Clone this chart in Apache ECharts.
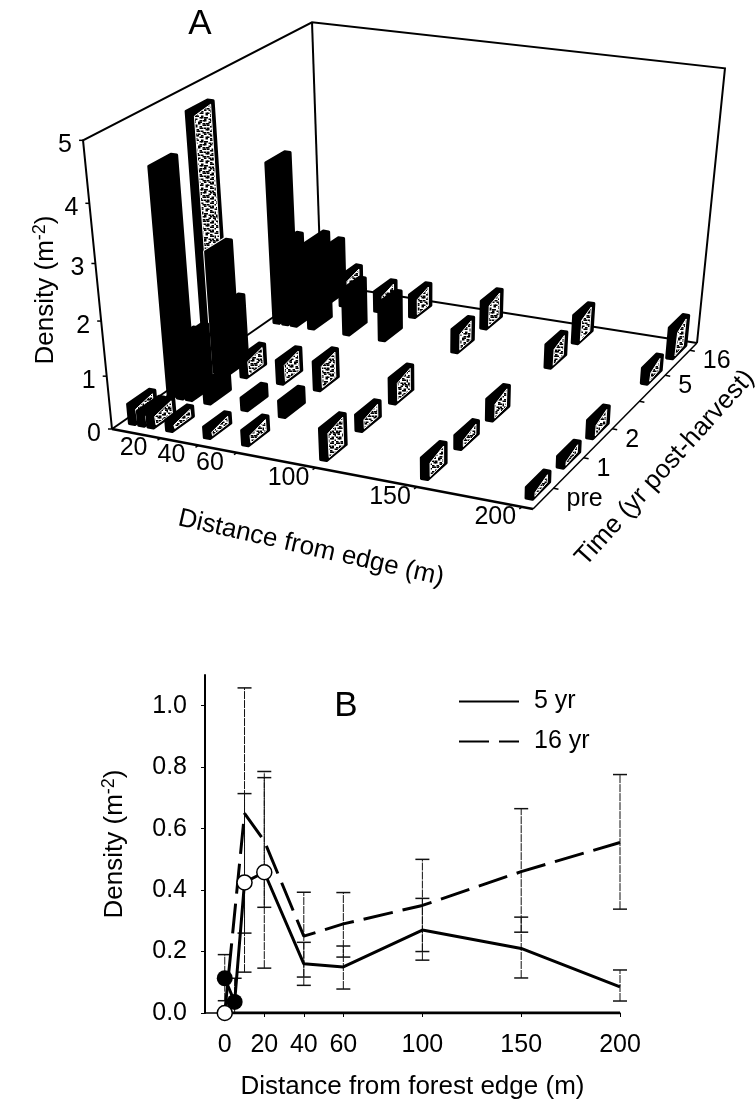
<!DOCTYPE html>
<html>
<head>
<meta charset="utf-8">
<style>html,body{margin:0;background:#fff}#main{width:756px;height:1113px}</style>
<script src="https://cdn.jsdelivr.net/npm/echarts@6/dist/echarts.min.js"></script>
</head>
<body>
<div id="main"></div>
<script>
// panel A
const distances = [0, 5, 10, 20, 40, 60, 100, 150, 200];
const distanceTicks = [20, 40, 60, 100, 150, 200];
const timeTicks = ['pre', '1', '2', '5', '16'];
const timeSlots = [0, 1, 2, 4, 5]; // slot 3 is an empty tick in the original
const densityTicks = [0, 1, 2, 3, 4, 5];

const densityPre = [0.37, 0.27, 0.3, 0.2, 0.2, 0.27, 0.58, 0.38, 0.2];
const density1 = [4.15, 1.1, 1.2, 0.4, 0.23, 0.3, 0.3, 0.25, 0.2];
const density2 = [4.7, 2.3, 1.3, 0.4, 0.45, 0.55, 0.48, 0.4, 0.33];
const density5 = [3.1, 1.6, 1.2, 1.7, 0.9, 0.75, 0.45, 0.45, 0.3];
const density16 = [1.0, 0.8, 1.1, 0.6, 0.4, 0.45, 0.55, 0.55, 0.6];

// 0 = stippled, 1 = solid black bar, 2 = solid with a thin white edge
const solidPre = [0, 0, 0, 0, 0, 0, 0, 0, 0];
const solid1 = [1, 1, 1, 1, 1, 1, 0, 0, 0];
const solid2 = [0, 2, 1, 0, 0, 0, 0, 0, 0];
const solid5 = [1, 1, 1, 1, 1, 1, 0, 0, 0];
const solid16 = [1, 1, 1, 0, 0, 0, 0, 0, 0];

// panel B
const edgeTicks = [0, 20, 40, 60, 100, 150, 200];
const densityTicksB = [0, 0.2, 0.4, 0.6, 0.8, 1.0];
const dist5 = [0, 5, 10, 20, 40, 60, 100, 150, 200];
const mean5 = [0.113, 0.036, 0.425, 0.458, 0.16, 0.15, 0.27, 0.21, 0.085];
const low5 = [0.04, 0, 0.133, 0.146, 0.09, 0.078, 0.172, 0.114, 0.039];
const high5 = [0.19, 0.113, 0.714, 0.766, 0.23, 0.218, 0.373, 0.312, 0.14];
const dist16 = [0, 10, 20, 40, 60, 100, 150, 200];
const mean16 = [0, 0.65, 0.56, 0.25, 0.29, 0.35, 0.46, 0.555];
const low16 = [0, 0.26, 0.344, 0.117, 0.182, 0.2, 0.263, 0.338];
const high16 = [0, 1.058, 0.786, 0.393, 0.392, 0.5, 0.665, 0.776];
const zeroLine = [0, 0, 0, 0, 0, 0, 0, 0, 0];
const filledDist = [0, 5];
const filledVal = [0.113, 0.036];
const hollowDist = [0, 10, 20];
const hollowVal = [0, 0.425, 0.458];

const FONT = '"Liberation Sans", Arial, sans-serif';

// --- projection of panel A ---
function quadMap(p0, p1, p2, p3) {
  const dx1 = p1[0] - p2[0], dx2 = p3[0] - p2[0], dx3 = p0[0] - p1[0] + p2[0] - p3[0];
  const dy1 = p1[1] - p2[1], dy2 = p3[1] - p2[1], dy3 = p0[1] - p1[1] + p2[1] - p3[1];
  const den = dx1 * dy2 - dx2 * dy1;
  const g = (dx3 * dy2 - dx2 * dy3) / den;
  const h = (dx1 * dy3 - dx3 * dy1) / den;
  const a = p1[0] - p0[0] + g * p1[0], b = p3[0] - p0[0] + h * p3[0];
  const d = p1[1] - p0[1] + g * p1[1], e = p3[1] - p0[1] + h * p3[1];
  return function (u, v) {
    const w = g * u + h * v + 1;
    return [(a * u + b * v + p0[0]) / w, (d * u + e * v + p0[1]) / w];
  };
}
const floorMap = quadMap([112, 429], [533, 509], [697, 343], [321, 284]);
const topMap = quadMap([83, 140], [541, 204], [725, 68], [312, 22]);
const D_MIN = -6, D_MAX = 205, T_MIN = -0.65, T_MAX = 5.3;

function zFrac(z) { return 0.179 * z / (1 - 0.0208 * z); }
function project(dist, slot, z) {
  const u = (dist - D_MIN) / (D_MAX - D_MIN);
  const v = (slot - T_MIN) / (T_MAX - T_MIN);
  const a = floorMap(u, v), b = topMap(u, v), f = zFrac(z);
  return [a[0] + (b[0] - a[0]) * f, a[1] + (b[1] - a[1]) * f];
}

// small speckle tile for the stippled faces
const speckleRows = [
  '##...#.##...#.#.',
  '.#..##.....#..##',
  '....#..#.##....#',
  '#.#....##.#..#..',
  '.##..#......##..',
  '.....##.#.#....#',
  '#..#.....##..#..',
  '##.##.#.....##..',
  '.......##.#....#',
  '..#.#...#..#.#..',
  '#.##..#.....##..',
  '#....##..##....#',
  '..#......#..#...',
  '.###..#.....##.#',
  '.....##.##.....#',
  '#.#.....#..#.#..'
];
const speckle = document.createElement('canvas');
speckle.width = speckle.height = 24;
const sctx = speckle.getContext('2d');
sctx.fillStyle = '#fff';
sctx.fillRect(0, 0, 24, 24);
sctx.fillStyle = '#000';
speckleRows.forEach(function (row, j) {
  for (let i = 0; i < row.length; i++) {
    if (row[i] === '#') sctx.fillRect(i * 1.5, j * 1.5, 2.5, 1.5);
  }
});

const barDepthD = 3, barWidthT = 0.55;
const rows = [
  [0, densityPre, solidPre], [1, density1, solid1], [2, density2, solid2],
  [4, density5, solid5], [5, density16, solid16]
];
// back rows first, and within a row the far (small distance) bars first
const barData = [];
rows.slice().reverse().forEach(function (r) {
  for (let i = 0; i < distances.length; i++) {
    barData.push([distances[i], r[0], r[1][i], r[2][i]]);
  }
});

function renderBar(params, api) {
  const d = api.value(0), t = api.value(1), z = api.value(2), kind = api.value(3);
  const d0 = d - 2, d1 = d0 + barDepthD;
  const t0 = t - 0.4, t1 = t0 + barWidthT;
  const P = project(d0, t0, 0), Q = project(d1, t0, 0), R = project(d1, t1, 0);
  const Pt = project(d0, t0, z), Qt = project(d1, t0, z), Rt = project(d1, t1, z), St = project(d0, t1, z);
  const outline = [P, Q, R, Rt, St, Pt];
  const kids = [];
  if (kind === 2) {
    kids.push({ type: 'polygon', shape: { points: outline }, style: { fill: '#fff', stroke: '#fff', lineWidth: 5, lineJoin: 'round' } });
  }
  kids.push({ type: 'polygon', shape: { points: outline }, style: { fill: '#000', stroke: '#000', lineWidth: 3, lineJoin: 'round' } });
  if (kind === 0) {
    const pad = 2.5;
    const inner = [
      [Q[0] + pad, Q[1] - pad * 1.2], [R[0] - pad, R[1] + pad * 0.2],
      [Rt[0] - pad, Rt[1] + pad * 1.4], [Qt[0] + pad, Qt[1] + pad * 1.6]
    ];
    kids.push({
      type: 'polygon', shape: { points: inner },
      style: { fill: { image: speckle, repeat: 'repeat' }, stroke: '#fff', lineWidth: 1 }
    });
  }
  return { type: 'group', children: kids };
}

// --- frame, ticks and texts of panel A ---
function line(pts, w) {
  return { type: 'polyline', silent: true, shape: { points: pts }, style: { stroke: '#000', lineWidth: w, fill: null } };
}
function text(str, x, y, size, rot, extra) {
  return {
    type: 'text', silent: true, x: x, y: y, rotation: (rot || 0) * Math.PI / 180,
    style: Object.assign({
      text: str, fontFamily: FONT, fontSize: size, fill: '#000',
      textAlign: 'center', textVerticalAlign: 'middle'
    }, extra || {})
  };
}
const supRich = {
  a: { fontFamily: FONT, fontSize: 26, fill: '#000' },
  s: { fontFamily: FONT, fontSize: 18, fill: '#000', padding: [0, 0, 12, 0] }
};
const FL = project(D_MIN, T_MIN, 0), FR = project(D_MAX, T_MIN, 0);
const BR = project(D_MAX, T_MAX, 0), BL = project(D_MIN, T_MAX, 0);
const FLt = project(D_MIN, T_MIN, 5), BLt = project(D_MIN, T_MAX, 5), BRt = project(D_MAX, T_MAX, 5);

const frame = [
  line([FL, FLt, BLt, BRt, BR], 2),
  line([BLt, BL], 2),
  line([FL, BL], 2),
  line([BL, BR], 2),
  line([FL, FR], 2.5),
  line([FR, BR], 1.5)
];
densityTicks.forEach(function (z) {
  const p = project(D_MIN, T_MIN, z);
  frame.push(line([p, [p[0] - 4, p[1]]], 1.5));
  frame.push(text(String(z), p[0] - 18, p[1] + 5, 25));
});
distanceTicks.forEach(function (d) {
  const p = project(d, T_MIN, 0);
  frame.push(line([p, [p[0] - 3, p[1] + 2]], 1.5));
  frame.push(text(String(d), p[0] - 27, p[1] + 10, 25));
});
[0, 1, 2, 3, 4, 5].forEach(function (s) {
  const p = project(D_MAX, s, 0);
  frame.push(line([p, [p[0] + 5, p[1] + 1]], 1.5));
});
timeTicks.forEach(function (lab, i) {
  const p = project(D_MAX, timeSlots[i], 0);
  frame.push(text(lab, p[0] + 13, p[1] + 11, 25, 0, { textAlign: 'left' }));
});
frame.push(text('A', 200, 24, 35));
frame.push(text('{a|Density (m}{s|-2}{a|)}', 46, 290, 26, 90, { rich: supRich }));
frame.push(text('Distance from edge (m)', 311, 548, 26, -12.8));
frame.push(text('Time (yr post-harvest)', 665, 468, 26, 48));
frame.push(text('B', 346, 706, 35));

function errorSeries(name, xs, lo, hi) {
  const rowsErr = [];
  xs.forEach(function (x, i) { if (hi[i] > 0) rowsErr.push([x, lo[i], hi[i]]); });
  return {
    name: name, type: 'custom', coordinateSystem: 'cartesian2d', z: 2, data: rowsErr,
    encode: { x: 0, y: [1, 2] },
    renderItem: function (params, api) {
      const a = api.coord([api.value(0), api.value(1)]);
      const b = api.coord([api.value(0), api.value(2)]);
      const st = { stroke: '#111', lineWidth: 1 };
      return {
        type: 'group', children: [
          { type: 'line', shape: { x1: a[0], y1: a[1], x2: b[0], y2: b[1] }, style: Object.assign({ lineDash: [8, 1] }, st) },
          { type: 'line', shape: { x1: a[0] - 7, y1: a[1], x2: a[0] + 7, y2: a[1] }, style: Object.assign({}, st, { lineWidth: 1.5 }) },
          { type: 'line', shape: { x1: b[0] - 7, y1: b[1], x2: b[0] + 7, y2: b[1] }, style: Object.assign({}, st, { lineWidth: 1.5 }) }
        ]
      };
    }
  };
}
function zip(a, b) { return a.map(function (v, i) { return [v, b[i]]; }); }

const chart = echarts.init(document.getElementById('main'), null, { renderer: 'canvas' });
chart.setOption({
  animation: false,
  backgroundColor: '#fff',
  graphic: { elements: frame },
  legend: {
    orient: 'vertical', left: 458, top: 689, itemWidth: 60, itemHeight: 22, itemGap: 15, padding: 0,
    data: ['5 yr', '16 yr'],
    itemStyle: { color: 'rgba(0,0,0,0)', borderWidth: 0 },
    textStyle: { fontFamily: FONT, fontSize: 25, color: '#000', padding: [0, 0, 0, 10] }
  },
  grid: { left: 205, top: 675, width: 415, height: 338 },
  xAxis: {
    type: 'value', min: -10, max: 200, splitLine: { show: false },
    axisLine: { onZero: false, lineStyle: { color: '#000', width: 1.5 } },
    axisTick: { customValues: edgeTicks, length: 4, lineStyle: { color: '#000' } },
    axisLabel: { customValues: edgeTicks, fontFamily: FONT, fontSize: 25, color: '#000', margin: 20 },
    name: 'Distance from forest edge (m)', nameLocation: 'middle', nameGap: 61,
    nameTextStyle: { fontFamily: FONT, fontSize: 26, color: '#000' }
  },
  yAxis: {
    type: 'value', min: 0, max: 1.1, splitLine: { show: false },
    axisLine: { onZero: false, lineStyle: { color: '#000', width: 2 } },
    axisTick: { customValues: densityTicksB, length: 4, lineStyle: { color: '#000' } },
    axisLabel: { customValues: densityTicksB, formatter: function (v) { return v.toFixed(1); }, fontFamily: FONT, fontSize: 25, color: '#000', margin: 18 },
    name: '{a|Density (m}{s|-2}{a|)}', nameLocation: 'middle', nameGap: 75, nameRotate: 90,
    nameTextStyle: { rich: supRich }
  },
  series: [
    {
      name: 'bars', type: 'custom', coordinateSystem: 'none', z: 3, data: barData,
      renderItem: renderBar, silent: true
    },
    errorSeries('err5', dist5, low5, high5),
    errorSeries('err16', dist16, low16, high16),
    {
      name: 'pre', type: 'line', symbol: 'none', z: 3, data: zip(distances, zeroLine),
      lineStyle: { color: '#000', width: 3 }
    },
    {
      name: '5 yr', type: 'line', symbol: 'none', z: 3, data: zip(dist5, mean5),
      itemStyle: { color: '#000' }, lineStyle: { color: '#000', width: 3 }
    },
    {
      name: '16 yr', type: 'line', symbol: 'none', z: 3, data: zip(dist16, mean16),
      itemStyle: { color: '#000' }, lineStyle: { color: '#000', width: 3, type: [30, 10] }
    },
    {
      name: 'filled', type: 'scatter', symbolSize: 16, z: 4, data: zip(filledDist, filledVal),
      itemStyle: { color: '#000', opacity: 1 }
    },
    {
      name: 'hollow', type: 'scatter', symbolSize: 15, z: 5, data: zip(hollowDist, hollowVal),
      itemStyle: { color: '#fff', borderColor: '#000', borderWidth: 1.5, opacity: 1 }
    }
  ]
});
</script>
</body>
</html>
